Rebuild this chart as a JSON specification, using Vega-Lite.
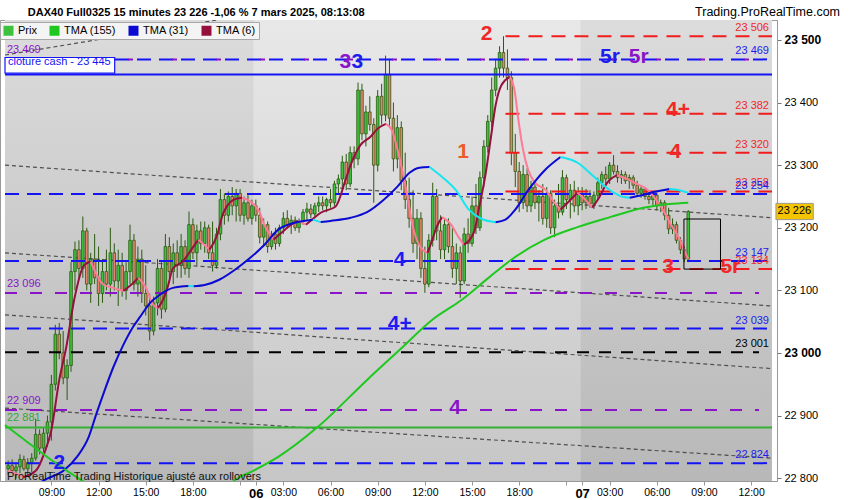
{
  "$schema": "https://vega.github.io/schema/vega-lite/v6.json",
  "width": 777,
  "height": 461,
  "autosize": {"type": "none"},
  "padding": {"left": 0, "top": 20, "right": 73, "bottom": 19},
  "background": "#ffffff",
  "config": {
    "font": "Liberation Sans",
    "view": {"stroke": "#9a9a9a"},
    "legend": {
      "orient": "none", "legendX": 0, "legendY": 2, "direction": "horizontal",
      "symbolType": "square", "symbolSize": 100, "symbolStrokeWidth": 0,
      "labelFont": "Liberation Sans", "labelFontSize": 11, "labelColor": "#000000",
      "columnPadding": 12, "fillColor": "#f4f4f4", "strokeColor": "#a8a8a8", "padding": 3
    }
  },
  "datasets": {
    "bg": [
      {"d": 5, "a": 0.2, "b": 63.5},
      {"d": 6, "a": 63.5, "b": 146.5},
      {"d": 7, "a": 146.5, "b": 195.3}
    ],
    "hdr": [
      {"t": "DAX40 Full0325 15 minutes 23 226 -1,06 % 7 mars 2025, 08:13:08", "p": 23538.3, "sd": "L"},
      {"t": "Trading.ProRealTime.com", "p": 23538.3, "sd": "R"}
    ],
    "diag": [
      {"i1": 0.2, "p1": 23300, "i2": 195.3, "p2": 23216},
      {"i1": 0.2, "p1": 23160, "i2": 195.3, "p2": 23075},
      {"i1": 0.2, "p1": 23061, "i2": 195.3, "p2": 22975},
      {"i1": 0.2, "p1": 22912, "i2": 195.3, "p2": 22832},
      {"i1": 0.2, "p1": 23476, "i2": 54.2, "p2": 23532}
    ],
    "lv": [
      {"p": 23469, "s": "bd", "f": 0.2},
      {"p": 23254, "s": "bd", "f": 0.2},
      {"p": 23147, "s": "bd", "f": 0.2},
      {"p": 23039, "s": "bd", "f": 0.2},
      {"p": 22824, "s": "bd", "f": 0.2},
      {"p": 23469, "s": "pb", "f": 0.2},
      {"p": 23506, "s": "rd", "f": 127.5},
      {"p": 23382, "s": "rd", "f": 127.5},
      {"p": 23320, "s": "rd", "f": 127.5},
      {"p": 23258, "s": "rd", "f": 127.5},
      {"p": 23134, "s": "rd", "f": 127.5},
      {"p": 23096, "s": "pd", "f": 0.2},
      {"p": 22909, "s": "pd", "f": 0.2},
      {"p": 23001, "s": "kd", "f": 0.2},
      {"p": 23445, "s": "bs", "f": 0.2},
      {"p": 22881, "s": "gs", "f": 0.2}
    ],
    "ll": [
      {"t": "23 506", "p": 23506, "c": "red", "sd": "R"},
      {"t": "23 469", "p": 23469, "c": "blue", "sd": "R"},
      {"t": "23 382", "p": 23382, "c": "red", "sd": "R"},
      {"t": "23 320", "p": 23320, "c": "red", "sd": "R"},
      {"t": "23 258", "p": 23258, "c": "red", "sd": "R"},
      {"t": "23 254", "p": 23254, "c": "blue", "sd": "R"},
      {"t": "23 147", "p": 23147, "c": "blue", "sd": "R"},
      {"t": "23 134", "p": 23134, "c": "red", "sd": "R"},
      {"t": "23 039", "p": 23039, "c": "blue", "sd": "R"},
      {"t": "23 001", "p": 23001, "c": "black", "sd": "R"},
      {"t": "22 824", "p": 22824, "c": "blue", "sd": "R"},
      {"t": "23 469", "p": 23469, "c": "purple", "sd": "L"},
      {"t": "23 096", "p": 23096, "c": "purple", "sd": "L"},
      {"t": "22 909", "p": 22909, "c": "purple", "sd": "L"},
      {"t": "22 881", "p": 22881, "c": "green", "sd": "L"}
    ],
    "notes": [
      {"t": "3", "i": 86.8, "p": 23465, "c": "purple"},
      {"t": "3", "i": 89.8, "p": 23465, "c": "blue"},
      {"t": "2", "i": 122.7, "p": 23510, "c": "red"},
      {"t": "1", "i": 116.7, "p": 23321, "c": "orange"},
      {"t": "5r", "i": 154.1, "p": 23473, "c": "blue"},
      {"t": "5r", "i": 161.4, "p": 23473, "c": "purple"},
      {"t": "4+", "i": 171.4, "p": 23388, "c": "red"},
      {"t": "4", "i": 170.7, "p": 23321, "c": "red"},
      {"t": "3", "i": 168.9, "p": 23137, "c": "red"},
      {"t": "5r", "i": 184.7, "p": 23137, "c": "red"},
      {"t": "4", "i": 100.6, "p": 23149, "c": "blue"},
      {"t": "4+", "i": 100.6, "p": 23046, "c": "blue"},
      {"t": "4", "i": 114.7, "p": 22912, "c": "purple"},
      {"t": "2", "i": 14, "p": 22825, "c": "blue"}
    ],
    "misc": [
      {"t": "clôture cash -  23 445", "p": 23445},
      {"t": "ProRealTime Trading  Historique ajusté aux rollovers", "p": 22797},
      {"t": "23 226", "p": 23226}
    ],
    "cdl": [
      {"i":1,"o":22815,"h":22828,"l":22805,"c":22820,"k":"Prix"},
      {"i":2,"o":22820,"h":22830,"l":22808,"c":22812,"k":"Prix-"},
      {"i":3,"o":22812,"h":22825,"l":22800,"c":22818,"k":"Prix"},
      {"i":4,"o":22818,"h":22838,"l":22808,"c":22830,"k":"Prix"},
      {"i":5,"o":22830,"h":22836,"l":22812,"c":22815,"k":"Prix-"},
      {"i":6,"o":22815,"h":22832,"l":22805,"c":22825,"k":"Prix"},
      {"i":7,"o":22825,"h":22840,"l":22810,"c":22832,"k":"Prix"},
      {"i":8,"o":22832,"h":22895,"l":22828,"c":22870,"k":"Prix"},
      {"i":9,"o":22870,"h":22878,"l":22838,"c":22848,"k":"Prix-"},
      {"i":10,"o":22848,"h":22880,"l":22842,"c":22872,"k":"Prix"},
      {"i":11,"o":22872,"h":22900,"l":22850,"c":22890,"k":"Prix"},
      {"i":12,"o":22890,"h":22965,"l":22860,"c":22950,"k":"Prix"},
      {"i":13,"o":22950,"h":23045,"l":22940,"c":23030,"k":"Prix"},
      {"i":14,"o":23030,"h":23048,"l":22990,"c":23000,"k":"Prix-"},
      {"i":15,"o":23000,"h":23035,"l":22950,"c":22960,"k":"Prix-"},
      {"i":16,"o":22960,"h":22990,"l":22925,"c":22980,"k":"Prix"},
      {"i":17,"o":22980,"h":23145,"l":22970,"c":23130,"k":"Prix"},
      {"i":18,"o":23130,"h":23178,"l":23100,"c":23165,"k":"Prix"},
      {"i":19,"o":23165,"h":23180,"l":23120,"c":23135,"k":"Prix-"},
      {"i":20,"o":23135,"h":23218,"l":23120,"c":23195,"k":"Prix"},
      {"i":21,"o":23195,"h":23200,"l":23100,"c":23110,"k":"Prix-"},
      {"i":22,"o":23110,"h":23160,"l":23080,"c":23150,"k":"Prix"},
      {"i":23,"o":23150,"h":23190,"l":23110,"c":23120,"k":"Prix-"},
      {"i":24,"o":23120,"h":23170,"l":23075,"c":23095,"k":"Prix-"},
      {"i":25,"o":23095,"h":23150,"l":23080,"c":23130,"k":"Prix"},
      {"i":26,"o":23130,"h":23165,"l":23100,"c":23110,"k":"Prix-"},
      {"i":27,"o":23110,"h":23200,"l":23090,"c":23160,"k":"Prix"},
      {"i":28,"o":23160,"h":23175,"l":23100,"c":23115,"k":"Prix-"},
      {"i":29,"o":23115,"h":23165,"l":23075,"c":23140,"k":"Prix"},
      {"i":30,"o":23140,"h":23160,"l":23090,"c":23100,"k":"Prix-"},
      {"i":31,"o":23100,"h":23145,"l":23085,"c":23130,"k":"Prix"},
      {"i":32,"o":23130,"h":23205,"l":23110,"c":23180,"k":"Prix"},
      {"i":33,"o":23180,"h":23190,"l":23100,"c":23110,"k":"Prix-"},
      {"i":34,"o":23110,"h":23170,"l":23090,"c":23150,"k":"Prix"},
      {"i":35,"o":23150,"h":23165,"l":23080,"c":23095,"k":"Prix-"},
      {"i":36,"o":23095,"h":23140,"l":23060,"c":23075,"k":"Prix-"},
      {"i":37,"o":23075,"h":23095,"l":23020,"c":23035,"k":"Prix-"},
      {"i":38,"o":23035,"h":23090,"l":23028,"c":23080,"k":"Prix"},
      {"i":39,"o":23080,"h":23150,"l":23060,"c":23135,"k":"Prix"},
      {"i":40,"o":23135,"h":23145,"l":23055,"c":23070,"k":"Prix-"},
      {"i":41,"o":23070,"h":23190,"l":23065,"c":23170,"k":"Prix"},
      {"i":42,"o":23170,"h":23185,"l":23120,"c":23130,"k":"Prix-"},
      {"i":43,"o":23130,"h":23175,"l":23110,"c":23160,"k":"Prix"},
      {"i":44,"o":23160,"h":23180,"l":23120,"c":23140,"k":"Prix-"},
      {"i":45,"o":23140,"h":23190,"l":23120,"c":23170,"k":"Prix"},
      {"i":46,"o":23170,"h":23180,"l":23125,"c":23135,"k":"Prix-"},
      {"i":47,"o":23135,"h":23226,"l":23120,"c":23205,"k":"Prix"},
      {"i":48,"o":23205,"h":23215,"l":23150,"c":23160,"k":"Prix-"},
      {"i":49,"o":23160,"h":23205,"l":23140,"c":23195,"k":"Prix"},
      {"i":50,"o":23195,"h":23210,"l":23165,"c":23175,"k":"Prix-"},
      {"i":51,"o":23175,"h":23210,"l":23160,"c":23200,"k":"Prix"},
      {"i":52,"o":23200,"h":23205,"l":23150,"c":23160,"k":"Prix-"},
      {"i":53,"o":23160,"h":23210,"l":23130,"c":23140,"k":"Prix-"},
      {"i":54,"o":23140,"h":23200,"l":23135,"c":23190,"k":"Prix"},
      {"i":55,"o":23190,"h":23262,"l":23180,"c":23245,"k":"Prix"},
      {"i":56,"o":23245,"h":23255,"l":23205,"c":23220,"k":"Prix-"},
      {"i":57,"o":23220,"h":23258,"l":23210,"c":23250,"k":"Prix"},
      {"i":58,"o":23250,"h":23265,"l":23220,"c":23235,"k":"Prix-"},
      {"i":59,"o":23235,"h":23262,"l":23210,"c":23255,"k":"Prix"},
      {"i":60,"o":23255,"h":23262,"l":23210,"c":23220,"k":"Prix-"},
      {"i":61,"o":23220,"h":23250,"l":23205,"c":23240,"k":"Prix"},
      {"i":62,"o":23240,"h":23252,"l":23210,"c":23215,"k":"Prix-"},
      {"i":63,"o":23215,"h":23245,"l":23205,"c":23235,"k":"Prix"},
      {"i":64,"o":23235,"h":23245,"l":23210,"c":23220,"k":"Prix-"},
      {"i":65,"o":23220,"h":23232,"l":23175,"c":23185,"k":"Prix-"},
      {"i":66,"o":23185,"h":23215,"l":23170,"c":23205,"k":"Prix"},
      {"i":67,"o":23205,"h":23210,"l":23160,"c":23170,"k":"Prix-"},
      {"i":68,"o":23170,"h":23195,"l":23165,"c":23190,"k":"Prix"},
      {"i":69,"o":23190,"h":23200,"l":23165,"c":23175,"k":"Prix-"},
      {"i":70,"o":23175,"h":23205,"l":23170,"c":23200,"k":"Prix"},
      {"i":71,"o":23200,"h":23225,"l":23190,"c":23215,"k":"Prix"},
      {"i":72,"o":23215,"h":23228,"l":23200,"c":23205,"k":"Prix-"},
      {"i":73,"o":23205,"h":23220,"l":23190,"c":23212,"k":"Prix"},
      {"i":74,"o":23212,"h":23218,"l":23195,"c":23200,"k":"Prix-"},
      {"i":75,"o":23200,"h":23215,"l":23192,"c":23210,"k":"Prix"},
      {"i":76,"o":23210,"h":23230,"l":23205,"c":23225,"k":"Prix"},
      {"i":77,"o":23225,"h":23240,"l":23212,"c":23230,"k":"Prix"},
      {"i":78,"o":23230,"h":23238,"l":23215,"c":23222,"k":"Prix-"},
      {"i":79,"o":23222,"h":23240,"l":23218,"c":23235,"k":"Prix"},
      {"i":80,"o":23235,"h":23250,"l":23225,"c":23240,"k":"Prix"},
      {"i":81,"o":23240,"h":23250,"l":23228,"c":23235,"k":"Prix-"},
      {"i":82,"o":23235,"h":23248,"l":23225,"c":23245,"k":"Prix"},
      {"i":83,"o":23245,"h":23262,"l":23232,"c":23240,"k":"Prix-"},
      {"i":84,"o":23240,"h":23275,"l":23235,"c":23270,"k":"Prix"},
      {"i":85,"o":23270,"h":23285,"l":23255,"c":23278,"k":"Prix"},
      {"i":86,"o":23278,"h":23315,"l":23262,"c":23305,"k":"Prix"},
      {"i":87,"o":23305,"h":23318,"l":23260,"c":23270,"k":"Prix-"},
      {"i":88,"o":23270,"h":23330,"l":23265,"c":23320,"k":"Prix"},
      {"i":89,"o":23320,"h":23330,"l":23295,"c":23310,"k":"Prix-"},
      {"i":90,"o":23310,"h":23432,"l":23300,"c":23420,"k":"Prix"},
      {"i":91,"o":23420,"h":23430,"l":23340,"c":23350,"k":"Prix-"},
      {"i":92,"o":23350,"h":23395,"l":23330,"c":23385,"k":"Prix"},
      {"i":93,"o":23385,"h":23410,"l":23355,"c":23365,"k":"Prix-"},
      {"i":94,"o":23365,"h":23375,"l":23240,"c":23300,"k":"Prix-"},
      {"i":95,"o":23300,"h":23420,"l":23290,"c":23410,"k":"Prix"},
      {"i":96,"o":23410,"h":23430,"l":23365,"c":23380,"k":"Prix-"},
      {"i":97,"o":23380,"h":23475,"l":23370,"c":23445,"k":"Prix"},
      {"i":98,"o":23445,"h":23470,"l":23360,"c":23375,"k":"Prix-"},
      {"i":99,"o":23375,"h":23400,"l":23290,"c":23310,"k":"Prix-"},
      {"i":100,"o":23310,"h":23380,"l":23295,"c":23360,"k":"Prix"},
      {"i":101,"o":23360,"h":23370,"l":23260,"c":23275,"k":"Prix-"},
      {"i":102,"o":23275,"h":23320,"l":23230,"c":23245,"k":"Prix-"},
      {"i":103,"o":23245,"h":23280,"l":23200,"c":23215,"k":"Prix-"},
      {"i":104,"o":23215,"h":23260,"l":23160,"c":23175,"k":"Prix-"},
      {"i":105,"o":23175,"h":23230,"l":23150,"c":23215,"k":"Prix"},
      {"i":106,"o":23215,"h":23225,"l":23120,"c":23135,"k":"Prix-"},
      {"i":107,"o":23135,"h":23170,"l":23096,"c":23110,"k":"Prix-"},
      {"i":108,"o":23110,"h":23190,"l":23105,"c":23180,"k":"Prix"},
      {"i":109,"o":23180,"h":23272,"l":23170,"c":23250,"k":"Prix"},
      {"i":110,"o":23250,"h":23262,"l":23180,"c":23195,"k":"Prix-"},
      {"i":111,"o":23195,"h":23220,"l":23150,"c":23165,"k":"Prix-"},
      {"i":112,"o":23165,"h":23215,"l":23150,"c":23205,"k":"Prix"},
      {"i":113,"o":23205,"h":23215,"l":23160,"c":23170,"k":"Prix-"},
      {"i":114,"o":23170,"h":23200,"l":23120,"c":23135,"k":"Prix-"},
      {"i":115,"o":23135,"h":23175,"l":23110,"c":23160,"k":"Prix"},
      {"i":116,"o":23160,"h":23170,"l":23088,"c":23115,"k":"Prix-"},
      {"i":117,"o":23115,"h":23200,"l":23110,"c":23190,"k":"Prix"},
      {"i":118,"o":23190,"h":23215,"l":23160,"c":23175,"k":"Prix-"},
      {"i":119,"o":23175,"h":23250,"l":23170,"c":23235,"k":"Prix"},
      {"i":120,"o":23235,"h":23270,"l":23190,"c":23200,"k":"Prix-"},
      {"i":121,"o":23200,"h":23290,"l":23195,"c":23280,"k":"Prix"},
      {"i":122,"o":23280,"h":23340,"l":23265,"c":23330,"k":"Prix"},
      {"i":123,"o":23330,"h":23380,"l":23320,"c":23370,"k":"Prix"},
      {"i":124,"o":23370,"h":23440,"l":23360,"c":23420,"k":"Prix"},
      {"i":125,"o":23420,"h":23470,"l":23410,"c":23455,"k":"Prix"},
      {"i":126,"o":23455,"h":23490,"l":23440,"c":23480,"k":"Prix"},
      {"i":127,"o":23480,"h":23506,"l":23440,"c":23455,"k":"Prix-"},
      {"i":128,"o":23455,"h":23485,"l":23420,"c":23440,"k":"Prix-"},
      {"i":129,"o":23440,"h":23450,"l":23300,"c":23320,"k":"Prix-"},
      {"i":130,"o":23320,"h":23350,"l":23265,"c":23290,"k":"Prix-"},
      {"i":131,"o":23290,"h":23305,"l":23225,"c":23240,"k":"Prix-"},
      {"i":132,"o":23240,"h":23300,"l":23230,"c":23285,"k":"Prix"},
      {"i":133,"o":23285,"h":23295,"l":23225,"c":23235,"k":"Prix-"},
      {"i":134,"o":23235,"h":23275,"l":23225,"c":23265,"k":"Prix"},
      {"i":135,"o":23265,"h":23272,"l":23230,"c":23240,"k":"Prix-"},
      {"i":136,"o":23240,"h":23260,"l":23210,"c":23250,"k":"Prix"},
      {"i":137,"o":23250,"h":23270,"l":23205,"c":23215,"k":"Prix-"},
      {"i":138,"o":23215,"h":23265,"l":23200,"c":23255,"k":"Prix"},
      {"i":139,"o":23255,"h":23260,"l":23190,"c":23200,"k":"Prix-"},
      {"i":140,"o":23200,"h":23245,"l":23185,"c":23235,"k":"Prix"},
      {"i":141,"o":23235,"h":23270,"l":23215,"c":23225,"k":"Prix-"},
      {"i":142,"o":23225,"h":23292,"l":23220,"c":23280,"k":"Prix"},
      {"i":143,"o":23280,"h":23285,"l":23230,"c":23245,"k":"Prix-"},
      {"i":144,"o":23245,"h":23270,"l":23215,"c":23260,"k":"Prix"},
      {"i":145,"o":23260,"h":23275,"l":23225,"c":23235,"k":"Prix-"},
      {"i":146,"o":23235,"h":23265,"l":23220,"c":23255,"k":"Prix"},
      {"i":147,"o":23255,"h":23265,"l":23228,"c":23240,"k":"Prix-"},
      {"i":148,"o":23240,"h":23262,"l":23230,"c":23250,"k":"Prix"},
      {"i":149,"o":23250,"h":23260,"l":23232,"c":23238,"k":"Prix-"},
      {"i":150,"o":23238,"h":23258,"l":23230,"c":23252,"k":"Prix"},
      {"i":151,"o":23252,"h":23280,"l":23245,"c":23272,"k":"Prix"},
      {"i":152,"o":23272,"h":23290,"l":23262,"c":23285,"k":"Prix"},
      {"i":153,"o":23285,"h":23298,"l":23270,"c":23278,"k":"Prix-"},
      {"i":154,"o":23278,"h":23305,"l":23270,"c":23300,"k":"Prix"},
      {"i":155,"o":23300,"h":23316,"l":23285,"c":23290,"k":"Prix-"},
      {"i":156,"o":23290,"h":23300,"l":23272,"c":23280,"k":"Prix-"},
      {"i":157,"o":23280,"h":23292,"l":23270,"c":23285,"k":"Prix"},
      {"i":158,"o":23285,"h":23290,"l":23270,"c":23275,"k":"Prix-"},
      {"i":159,"o":23275,"h":23285,"l":23262,"c":23280,"k":"Prix"},
      {"i":160,"o":23280,"h":23284,"l":23262,"c":23268,"k":"Prix-"},
      {"i":161,"o":23268,"h":23275,"l":23250,"c":23255,"k":"Prix-"},
      {"i":162,"o":23255,"h":23268,"l":23248,"c":23262,"k":"Prix"},
      {"i":163,"o":23262,"h":23265,"l":23245,"c":23250,"k":"Prix-"},
      {"i":164,"o":23250,"h":23258,"l":23238,"c":23245,"k":"Prix-"},
      {"i":165,"o":23245,"h":23256,"l":23236,"c":23252,"k":"Prix"},
      {"i":166,"o":23252,"h":23255,"l":23228,"c":23235,"k":"Prix-"},
      {"i":167,"o":23235,"h":23245,"l":23225,"c":23240,"k":"Prix"},
      {"i":168,"o":23240,"h":23244,"l":23212,"c":23220,"k":"Prix-"},
      {"i":169,"o":23220,"h":23232,"l":23190,"c":23198,"k":"Prix-"},
      {"i":170,"o":23198,"h":23215,"l":23190,"c":23205,"k":"Prix"},
      {"i":171,"o":23205,"h":23210,"l":23175,"c":23180,"k":"Prix-"},
      {"i":172,"o":23180,"h":23185,"l":23158,"c":23165,"k":"Prix-"},
      {"i":173,"o":23165,"h":23170,"l":23145,"c":23150,"k":"Prix-"},
      {"i":174,"o":23150,"h":23228,"l":23145,"c":23226,"k":"Prix"}
    ],
    "tma": [
      {"k":"TMA (6)-","g":1,"i":1,"p":22812},{"k":"TMA (6)-","g":1,"i":5,"p":22802},
      {"k":"TMA (6)","g":2,"i":5,"p":22802},{"k":"TMA (6)","g":2,"i":8.2,"p":22813},{"k":"TMA (6)","g":2,"i":10.2,"p":22840},{"k":"TMA (6)","g":2,"i":12,"p":22877},{"k":"TMA (6)","g":2,"i":14,"p":22957},{"k":"TMA (6)","g":2,"i":15.8,"p":23010},{"k":"TMA (6)","g":2,"i":17.8,"p":23085},{"k":"TMA (6)","g":2,"i":20.3,"p":23140},{"k":"TMA (6)","g":2,"i":22,"p":23146},
      {"k":"TMA (6)-","g":3,"i":22,"p":23146},{"k":"TMA (6)-","g":3,"i":25.3,"p":23109},{"k":"TMA (6)-","g":3,"i":27.8,"p":23104},{"k":"TMA (6)-","g":3,"i":30.3,"p":23099},
      {"k":"TMA (6)","g":4,"i":30.3,"p":23099},{"k":"TMA (6)","g":4,"i":32.3,"p":23109},{"k":"TMA (6)","g":4,"i":34.1,"p":23120},
      {"k":"TMA (6)-","g":5,"i":34.1,"p":23120},{"k":"TMA (6)-","g":5,"i":35.9,"p":23106},{"k":"TMA (6)-","g":5,"i":37.9,"p":23077},{"k":"TMA (6)-","g":5,"i":39.1,"p":23072},
      {"k":"TMA (6)","g":6,"i":39.1,"p":23072},{"k":"TMA (6)","g":6,"i":40.4,"p":23085},{"k":"TMA (6)","g":6,"i":41.6,"p":23106},{"k":"TMA (6)","g":6,"i":42.9,"p":23135},{"k":"TMA (6)","g":6,"i":45.4,"p":23146},{"k":"TMA (6)","g":6,"i":47.9,"p":23168},{"k":"TMA (6)","g":6,"i":49.4,"p":23181},
      {"k":"TMA (6)-","g":7,"i":49.4,"p":23181},{"k":"TMA (6)-","g":7,"i":50.9,"p":23173},{"k":"TMA (6)-","g":7,"i":52.2,"p":23165},
      {"k":"TMA (6)","g":8,"i":52.2,"p":23165},{"k":"TMA (6)","g":8,"i":54.2,"p":23189},{"k":"TMA (6)","g":8,"i":55.4,"p":23218},{"k":"TMA (6)","g":8,"i":56.7,"p":23235},{"k":"TMA (6)","g":8,"i":58.4,"p":23245},{"k":"TMA (6)","g":8,"i":60.5,"p":23248},
      {"k":"TMA (6)-","g":9,"i":60.5,"p":23248},{"k":"TMA (6)-","g":9,"i":63,"p":23240},{"k":"TMA (6)-","g":9,"i":65,"p":23224},{"k":"TMA (6)-","g":9,"i":66.2,"p":23204},{"k":"TMA (6)-","g":9,"i":68.5,"p":23181},
      {"k":"TMA (6)","g":10,"i":68.5,"p":23181},{"k":"TMA (6)","g":10,"i":70.5,"p":23192},{"k":"TMA (6)","g":10,"i":73,"p":23205},{"k":"TMA (6)","g":10,"i":74.8,"p":23211},
      {"k":"TMA (6)-","g":11,"i":74.8,"p":23211},{"k":"TMA (6)-","g":11,"i":76.8,"p":23205},
      {"k":"TMA (6)","g":12,"i":76.8,"p":23205},{"k":"TMA (6)","g":12,"i":78.5,"p":23214},{"k":"TMA (6)","g":12,"i":80.5,"p":23224},{"k":"TMA (6)","g":12,"i":84.3,"p":23234},{"k":"TMA (6)","g":12,"i":86.8,"p":23276},{"k":"TMA (6)","g":12,"i":88.1,"p":23300},{"k":"TMA (6)","g":12,"i":90.6,"p":23332},{"k":"TMA (6)","g":12,"i":93.1,"p":23345},{"k":"TMA (6)","g":12,"i":95.1,"p":23359},{"k":"TMA (6)","g":12,"i":97.1,"p":23366},
      {"k":"TMA (6)-","g":13,"i":97.1,"p":23366},{"k":"TMA (6)-","g":13,"i":98.6,"p":23356},{"k":"TMA (6)-","g":13,"i":100.6,"p":23310},{"k":"TMA (6)-","g":13,"i":102.4,"p":23256},{"k":"TMA (6)-","g":13,"i":103.9,"p":23203},{"k":"TMA (6)-","g":13,"i":105.7,"p":23171},{"k":"TMA (6)-","g":13,"i":107.7,"p":23160},
      {"k":"TMA (6)","g":14,"i":107.7,"p":23160},{"k":"TMA (6)","g":14,"i":108.9,"p":23181},{"k":"TMA (6)","g":14,"i":109.9,"p":23200},{"k":"TMA (6)","g":14,"i":111.4,"p":23217},
      {"k":"TMA (6)-","g":15,"i":111.4,"p":23217},{"k":"TMA (6)-","g":15,"i":113.7,"p":23205},{"k":"TMA (6)-","g":15,"i":115.2,"p":23189},{"k":"TMA (6)-","g":15,"i":116.9,"p":23173},
      {"k":"TMA (6)","g":16,"i":116.9,"p":23173},{"k":"TMA (6)","g":16,"i":119.5,"p":23193},{"k":"TMA (6)","g":16,"i":120.7,"p":23229},{"k":"TMA (6)","g":16,"i":122.5,"p":23288},{"k":"TMA (6)","g":16,"i":123.7,"p":23340},{"k":"TMA (6)","g":16,"i":125,"p":23396},{"k":"TMA (6)","g":16,"i":126.5,"p":23428},{"k":"TMA (6)","g":16,"i":128.7,"p":23441},
      {"k":"TMA (6)-","g":17,"i":128.7,"p":23441},{"k":"TMA (6)-","g":17,"i":129.8,"p":23420},{"k":"TMA (6)-","g":17,"i":130.8,"p":23372},{"k":"TMA (6)-","g":17,"i":132,"p":23324},{"k":"TMA (6)-","g":17,"i":133.3,"p":23292},{"k":"TMA (6)-","g":17,"i":135,"p":23272},{"k":"TMA (6)-","g":17,"i":137.8,"p":23260},{"k":"TMA (6)-","g":17,"i":139.5,"p":23244},{"k":"TMA (6)-","g":17,"i":141.5,"p":23229},
      {"k":"TMA (6)","g":18,"i":141.5,"p":23229},{"k":"TMA (6)","g":18,"i":143.3,"p":23240},{"k":"TMA (6)","g":18,"i":145.8,"p":23256},
      {"k":"TMA (6)-","g":19,"i":145.8,"p":23256},{"k":"TMA (6)-","g":19,"i":147.8,"p":23245},{"k":"TMA (6)-","g":19,"i":149.6,"p":23232},
      {"k":"TMA (6)","g":20,"i":149.6,"p":23232},{"k":"TMA (6)","g":20,"i":151.3,"p":23248},{"k":"TMA (6)","g":20,"i":153.4,"p":23272},{"k":"TMA (6)","g":20,"i":155.9,"p":23284},
      {"k":"TMA (6)-","g":21,"i":155.9,"p":23284},{"k":"TMA (6)-","g":21,"i":158.4,"p":23278},{"k":"TMA (6)-","g":21,"i":160.9,"p":23270},{"k":"TMA (6)-","g":21,"i":163.4,"p":23262},{"k":"TMA (6)-","g":21,"i":165.9,"p":23244},{"k":"TMA (6)-","g":21,"i":167.9,"p":23225},{"k":"TMA (6)-","g":21,"i":169.6,"p":23205},{"k":"TMA (6)-","g":21,"i":170.9,"p":23192},{"k":"TMA (6)-","g":21,"i":172.2,"p":23177},{"k":"TMA (6)-","g":21,"i":173.4,"p":23158},{"k":"TMA (6)-","g":21,"i":174,"p":23150},
      {"k":"TMA (31)","g":30,"i":8.5,"p":22790},{"k":"TMA (31)","g":30,"i":10.2,"p":22797},{"k":"TMA (31)","g":30,"i":15.3,"p":22813},{"k":"TMA (31)","g":30,"i":18.5,"p":22834},{"k":"TMA (31)","g":30,"i":21.5,"p":22866},{"k":"TMA (31)","g":30,"i":23.5,"p":22904},{"k":"TMA (31)","g":30,"i":25.3,"p":22936},{"k":"TMA (31)","g":30,"i":27.8,"p":22978},{"k":"TMA (31)","g":30,"i":30.3,"p":23013},{"k":"TMA (31)","g":30,"i":32.8,"p":23042},{"k":"TMA (31)","g":30,"i":34.6,"p":23058},{"k":"TMA (31)","g":30,"i":37.1,"p":23080},{"k":"TMA (31)","g":30,"i":39.6,"p":23093},{"k":"TMA (31)","g":30,"i":42.9,"p":23104},{"k":"TMA (31)","g":30,"i":46.9,"p":23107},
      {"k":"TMA (31)-","g":31,"i":46.9,"p":23107},{"k":"TMA (31)-","g":31,"i":48.2,"p":23106.5},
      {"k":"TMA (31)","g":32,"i":48.2,"p":23106.5},{"k":"TMA (31)","g":32,"i":51.2,"p":23109},{"k":"TMA (31)","g":32,"i":54.7,"p":23117},{"k":"TMA (31)","g":32,"i":58.7,"p":23133},{"k":"TMA (31)","g":32,"i":62.2,"p":23150},{"k":"TMA (31)","g":32,"i":66.2,"p":23173},{"k":"TMA (31)","g":32,"i":69.7,"p":23197},{"k":"TMA (31)","g":32,"i":73.8,"p":23208},{"k":"TMA (31)","g":32,"i":78.5,"p":23213},
      {"k":"TMA (31)-","g":33,"i":78.5,"p":23213},{"k":"TMA (31)-","g":33,"i":80.5,"p":23209},
      {"k":"TMA (31)","g":34,"i":80.5,"p":23209},{"k":"TMA (31)","g":34,"i":83,"p":23211},{"k":"TMA (31)","g":34,"i":88.1,"p":23216},{"k":"TMA (31)","g":34,"i":92.3,"p":23225},{"k":"TMA (31)","g":34,"i":96.4,"p":23244},{"k":"TMA (31)","g":34,"i":99.9,"p":23265},{"k":"TMA (31)","g":34,"i":103.1,"p":23288},{"k":"TMA (31)","g":34,"i":105.6,"p":23296},{"k":"TMA (31)","g":34,"i":108.2,"p":23297},
      {"k":"TMA (31)-","g":35,"i":108.2,"p":23297},{"k":"TMA (31)-","g":35,"i":111.4,"p":23281},{"k":"TMA (31)-","g":35,"i":114.9,"p":23260},{"k":"TMA (31)-","g":35,"i":118.2,"p":23229},{"k":"TMA (31)-","g":35,"i":121.5,"p":23214},{"k":"TMA (31)-","g":35,"i":125,"p":23209},
      {"k":"TMA (31)","g":36,"i":125,"p":23209},{"k":"TMA (31)","g":36,"i":127.5,"p":23213},{"k":"TMA (31)","g":36,"i":130,"p":23229},{"k":"TMA (31)","g":36,"i":133.3,"p":23260},{"k":"TMA (31)","g":36,"i":137.5,"p":23292},{"k":"TMA (31)","g":36,"i":141.5,"p":23313},
      {"k":"TMA (31)-","g":37,"i":141.5,"p":23313},{"k":"TMA (31)-","g":37,"i":145.8,"p":23304},{"k":"TMA (31)-","g":37,"i":150.1,"p":23281},{"k":"TMA (31)-","g":37,"i":154.1,"p":23260},{"k":"TMA (31)-","g":37,"i":157.6,"p":23249},{"k":"TMA (31)-","g":37,"i":159.1,"p":23248},
      {"k":"TMA (31)","g":38,"i":159.1,"p":23248},{"k":"TMA (31)","g":38,"i":162.1,"p":23252},{"k":"TMA (31)","g":38,"i":165.1,"p":23257},{"k":"TMA (31)","g":38,"i":169.2,"p":23262},
      {"k":"TMA (31)-","g":39,"i":169.2,"p":23262},{"k":"TMA (31)-","g":39,"i":171.7,"p":23260},{"k":"TMA (31)-","g":39,"i":174,"p":23256},
      {"k":"TMA (155)","g":50,"i":0.2,"p":22885},{"k":"TMA (155)","g":50,"i":5.2,"p":22861},{"k":"TMA (155)","g":50,"i":12,"p":22829},{"k":"TMA (155)","g":50,"i":20.3,"p":22794},{"k":"TMA (155)","g":50,"i":28,"p":22765},{"k":"TMA (155)","g":50,"i":38,"p":22745},{"k":"TMA (155)","g":50,"i":48,"p":22750},{"k":"TMA (155)","g":50,"i":54,"p":22770},{"k":"TMA (155)","g":50,"i":58.7,"p":22797},{"k":"TMA (155)","g":50,"i":63.7,"p":22813},{"k":"TMA (155)","g":50,"i":69.7,"p":22834},{"k":"TMA (155)","g":50,"i":79.8,"p":22882},{"k":"TMA (155)","g":50,"i":92.3,"p":22957},{"k":"TMA (155)","g":50,"i":100.6,"p":23005},{"k":"TMA (155)","g":50,"i":108.9,"p":23053},{"k":"TMA (155)","g":50,"i":116.4,"p":23085},{"k":"TMA (155)","g":50,"i":123.2,"p":23120},{"k":"TMA (155)","g":50,"i":129,"p":23149},{"k":"TMA (155)","g":50,"i":137.5,"p":23181},{"k":"TMA (155)","g":50,"i":145.8,"p":23201},{"k":"TMA (155)","g":50,"i":154.1,"p":23217},{"k":"TMA (155)","g":50,"i":162.6,"p":23232},{"k":"TMA (155)","g":50,"i":169.2,"p":23238},{"k":"TMA (155)","g":50,"i":174,"p":23240}
    ]
  },
  "layer": [
    {
      "data": {"name": "bg"},
      "transform": [{"filter": "datum.d != 6"}],
      "mark": {"type": "rect", "fill": {"gradient": "linear", "x1": 0, "y1": 0, "x2": 0, "y2": 1, "stops": [{"offset": 0, "color": "#dcdcdc"}, {"offset": 1, "color": "#b8b8b8"}]}},
      "encoding": {
        "x": {"field": "a", "type": "quantitative", "scale": {"domain": [0.2, 195.3], "nice": false, "zero": false},
          "axis": {
            "values": [12, 24, 36, 48, 60, 64, 71, 83, 95, 107, 119, 131, 143, 147, 154, 166, 178, 190],
            "labelExpr": "datum.value==64?'06':datum.value==147?'07':(datum.value==12||datum.value==95||datum.value==178)?'09:00':(datum.value==24||datum.value==107||datum.value==190)?'12:00':(datum.value==36||datum.value==119)?'15:00':(datum.value==48||datum.value==131)?'18:00':(datum.value==71||datum.value==154)?'03:00':(datum.value==83||datum.value==166)?'06:00':''",
            "labelFontWeight": {"condition": {"test": "datum.value==64||datum.value==147", "value": "bold"}, "value": "normal"},
            "labelFontSize": {"condition": {"test": "datum.value==64||datum.value==147", "value": 13}, "value": 10.5},
            "labelFont": "Liberation Sans", "labelColor": "#000000", "labelPadding": 2, "labelOverlap": false, "labelFlush": false,
            "tickSize": 4, "tickColor": "#999999", "domainColor": "#999999", "grid": false, "title": null
          }},
        "x2": {"field": "b"}
      }
    },
    {
      "data": {"name": "bg"},
      "transform": [{"filter": "datum.d == 6"}],
      "mark": {"type": "rect", "fill": {"gradient": "linear", "x1": 0, "y1": 0, "x2": 0, "y2": 1, "stops": [{"offset": 0, "color": "#e8e8e8"}, {"offset": 1, "color": "#c6c6c6"}]}},
      "encoding": {
        "x": {"field": "a", "type": "quantitative", "title": null},
        "x2": {"field": "b"}
      }
    },
    {
      "data": {"name": "cdl"},
      "mark": {"type": "rule", "color": "#2b5a12", "strokeWidth": 1, "clip": true},
      "encoding": {
        "x": {"field": "i", "type": "quantitative", "title": null},
        "y": {"field": "l", "type": "quantitative", "scale": {"domain": [22795.5, 23531.9], "nice": false, "zero": false},
          "axis": {
            "orient": "right", "title": null, "grid": false,
            "values": [22800, 22850, 22900, 22950, 23000, 23050, 23100, 23150, 23200, 23250, 23300, 23350, 23400, 23450, 23500],
            "labelExpr": "replace(format(datum.value, ','), ',', ' ')",
            "labelFontWeight": {"condition": {"test": "datum.value==23000||datum.value==23500", "value": "bold"}, "value": "normal"},
            "labelFontSize": {"condition": {"test": "datum.value==23000||datum.value==23500", "value": 12}, "value": 11},
            "labelFont": "Liberation Sans", "labelColor": "#000000", "labelPadding": 3,
            "tickSize": 4, "tickColor": "#777777", "domainColor": "#999999"
          }},
        "y2": {"field": "h"}
      }
    },
    {
      "data": {"name": "diag"},
      "mark": {"type": "rule", "color": "#3a3a3a", "strokeWidth": 1.2, "strokeDash": [4, 3], "opacity": 0.85, "clip": true},
      "encoding": {
        "x": {"field": "i1", "type": "quantitative", "title": null},
        "x2": {"field": "i2"},
        "y": {"field": "p1", "type": "quantitative", "title": null},
        "y2": {"field": "p2"}
      }
    },
    {
      "data": {"name": "cdl"},
      "mark": {"type": "bar", "orient": "vertical", "width": 2.6, "stroke": "#2b5a12", "strokeWidth": 0.8, "clip": true},
      "encoding": {
        "x": {"field": "i", "type": "quantitative", "title": null},
        "y": {"field": "o", "type": "quantitative", "title": null},
        "y2": {"field": "c"},
        "color": {"field": "k", "type": "nominal",
          "scale": {"domain": ["Prix", "Prix-", "TMA (155)", "TMA (31)", "TMA (31)-", "TMA (6)", "TMA (6)-", "red", "blue", "purple", "black", "green", "orange"],
                    "range": ["#3cc23c", "#e8826c", "#1ec81e", "#0a0ad2", "#16e6f0", "#96103c", "#ff7a98", "#f02828", "#1c1cf0", "#8a14c8", "#000000", "#34a834", "#ee5a2a"]},
          "legend": {"title": null, "values": ["Prix", "TMA (155)", "TMA (31)", "TMA (6)"]}}
      }
    },
    {
      "data": {"name": "lv"},
      "transform": [{"filter": "datum.s == 'bd'"}],
      "mark": {"type": "rule", "color": "#1414f5", "strokeWidth": 2, "strokeDash": [14, 8]},
      "encoding": {
        "x": {"field": "f", "type": "quantitative", "title": null},
        "x2": {"datum": 195.3},
        "y": {"field": "p", "type": "quantitative", "title": null}
      }
    },
    {
      "data": {"name": "lv"},
      "transform": [{"filter": "datum.s == 'pb'"}],
      "mark": {"type": "rule", "color": "#8a14c8", "strokeWidth": 2, "strokeDash": [5, 39], "strokeDashOffset": 9},
      "encoding": {
        "x": {"field": "f", "type": "quantitative", "title": null},
        "x2": {"datum": 195.3},
        "y": {"field": "p", "type": "quantitative", "title": null}
      }
    },
    {
      "data": {"name": "lv"},
      "transform": [{"filter": "datum.s == 'rd'"}],
      "mark": {"type": "rule", "color": "#f21c1c", "strokeWidth": 2, "strokeDash": [14, 9]},
      "encoding": {
        "x": {"field": "f", "type": "quantitative", "title": null},
        "x2": {"datum": 195.3},
        "y": {"field": "p", "type": "quantitative", "title": null}
      }
    },
    {
      "data": {"name": "lv"},
      "transform": [{"filter": "datum.s == 'pd'"}],
      "mark": {"type": "rule", "color": "#8a14c8", "strokeWidth": 2, "strokeDash": [12, 13]},
      "encoding": {
        "x": {"field": "f", "type": "quantitative", "title": null},
        "x2": {"datum": 192},
        "y": {"field": "p", "type": "quantitative", "title": null}
      }
    },
    {
      "data": {"name": "lv"},
      "transform": [{"filter": "datum.s == 'kd'"}],
      "mark": {"type": "rule", "color": "#000000", "strokeWidth": 2, "strokeDash": [12, 10]},
      "encoding": {
        "x": {"field": "f", "type": "quantitative", "title": null},
        "x2": {"datum": 192},
        "y": {"field": "p", "type": "quantitative", "title": null}
      }
    },
    {
      "data": {"name": "lv"},
      "transform": [{"filter": "datum.s == 'bs'"}],
      "mark": {"type": "rule", "color": "#1414f5", "strokeWidth": 2},
      "encoding": {
        "x": {"field": "f", "type": "quantitative", "title": null},
        "x2": {"datum": 195.3},
        "y": {"field": "p", "type": "quantitative", "title": null}
      }
    },
    {
      "data": {"name": "lv"},
      "transform": [{"filter": "datum.s == 'gs'"}],
      "mark": {"type": "rule", "color": "#34b034", "strokeWidth": 2},
      "encoding": {
        "x": {"field": "f", "type": "quantitative", "title": null},
        "x2": {"datum": 195.3},
        "y": {"field": "p", "type": "quantitative", "title": null}
      }
    },
    {
      "data": {"name": "tma"},
      "mark": {"type": "line", "strokeWidth": 2, "interpolate": "monotone", "clip": true},
      "encoding": {
        "x": {"field": "i", "type": "quantitative", "title": null},
        "y": {"field": "p", "type": "quantitative", "title": null},
        "detail": {"field": "g", "type": "nominal"},
        "color": {"field": "k", "type": "nominal", "legend": null}
      }
    },
    {
      "data": {"name": "misc"},
      "transform": [{"filter": "datum.t == '23 226'"}],
      "mark": {"type": "rect", "fill": null, "fillOpacity": 0, "stroke": "#000000", "strokeWidth": 1},
      "encoding": {
        "x": {"datum": 172.9, "type": "quantitative", "title": null},
        "x2": {"datum": 182.2},
        "y": {"datum": 23214, "type": "quantitative", "title": null},
        "y2": {"datum": 23134}
      }
    },
    {
      "data": {"name": "ll"},
      "transform": [{"filter": "datum.sd == 'R'"}],
      "mark": {"type": "text", "align": "right", "baseline": "middle", "dx": -3, "dy": -8, "fontSize": 11, "font": "Liberation Sans"},
      "encoding": {
        "x": {"datum": 195.3, "type": "quantitative", "title": null},
        "y": {"field": "p", "type": "quantitative", "title": null},
        "text": {"field": "t"},
        "fontWeight": {"condition": {"test": "datum.t == '23 001'", "value": "bold"}, "value": "normal"},
        "color": {"field": "c", "type": "nominal", "legend": null}
      }
    },
    {
      "data": {"name": "ll"},
      "transform": [{"filter": "datum.sd == 'L'"}],
      "mark": {"type": "text", "align": "left", "baseline": "middle", "dx": 2, "dy": -9, "fontSize": 11, "font": "Liberation Sans"},
      "encoding": {
        "x": {"datum": 0.2, "type": "quantitative", "title": null},
        "y": {"field": "p", "type": "quantitative", "title": null},
        "text": {"field": "t"},
        "color": {"field": "c", "type": "nominal", "legend": null}
      }
    },
    {
      "data": {"name": "notes"},
      "mark": {"type": "text", "align": "center", "baseline": "middle", "fontSize": 21, "fontWeight": "bold", "font": "Liberation Sans"},
      "encoding": {
        "x": {"field": "i", "type": "quantitative", "title": null},
        "y": {"field": "p", "type": "quantitative", "title": null},
        "text": {"field": "t"},
        "color": {"field": "c", "type": "nominal", "legend": null}
      }
    },
    {
      "data": {"name": "misc"},
      "transform": [{"filter": "indexof(datum.t, 'cash') >= 0"}],
      "mark": {"type": "rect", "fill": "#ffffff", "stroke": "#1414f5", "strokeWidth": 1.2},
      "encoding": {
        "x": {"datum": 0.2, "type": "quantitative", "title": null},
        "x2": {"datum": 28.1},
        "y": {"datum": 23447, "type": "quantitative", "title": null},
        "y2": {"datum": 23472}
      }
    },
    {
      "data": {"name": "misc"},
      "transform": [{"filter": "indexof(datum.t, 'cash') >= 0"}],
      "mark": {"type": "text", "align": "left", "baseline": "middle", "dx": 3, "dy": -12, "fontSize": 11, "font": "Liberation Sans", "color": "#1414f5"},
      "encoding": {
        "x": {"datum": 0.2, "type": "quantitative", "title": null},
        "y": {"field": "p", "type": "quantitative", "title": null},
        "text": {"field": "t"}
      }
    },
    {
      "data": {"name": "misc"},
      "transform": [{"filter": "indexof(datum.t, 'rollovers') >= 0"}],
      "mark": {"type": "text", "align": "left", "baseline": "alphabetic", "dx": 2, "fontSize": 11, "font": "Liberation Sans", "color": "#111111"},
      "encoding": {
        "x": {"datum": 0.2, "type": "quantitative", "title": null},
        "y": {"field": "p", "type": "quantitative", "title": null},
        "text": {"field": "t"}
      }
    },
    {
      "data": {"name": "misc"},
      "transform": [{"filter": "datum.t == '23 226'"}],
      "mark": {"type": "rect", "fill": "#f5c400", "stroke": "#9a9a9a", "strokeWidth": 1, "clip": false},
      "encoding": {
        "x": {"datum": 196.3, "type": "quantitative", "title": null},
        "x2": {"datum": 205.8},
        "y": {"datum": 23239, "type": "quantitative", "title": null},
        "y2": {"datum": 23213}
      }
    },
    {
      "data": {"name": "misc"},
      "transform": [{"filter": "datum.t == '23 226'"}],
      "mark": {"type": "text", "align": "center", "baseline": "middle", "fontSize": 11, "font": "Liberation Sans", "color": "#000000", "clip": false},
      "encoding": {
        "x": {"datum": 201, "type": "quantitative", "title": null},
        "y": {"field": "p", "type": "quantitative", "title": null},
        "text": {"field": "t"}
      }
    },
    {
      "data": {"name": "hdr"},
      "transform": [{"filter": "datum.sd == 'L'"}],
      "mark": {"type": "text", "align": "left", "baseline": "alphabetic", "fontSize": 11, "fontWeight": "bold", "font": "Liberation Sans", "color": "#000000", "clip": false},
      "encoding": {
        "x": {"datum": 6.0, "type": "quantitative", "title": null},
        "y": {"field": "p", "type": "quantitative", "title": null},
        "text": {"field": "t"}
      }
    },
    {
      "data": {"name": "hdr"},
      "transform": [{"filter": "datum.sd == 'R'"}],
      "mark": {"type": "text", "align": "right", "baseline": "alphabetic", "fontSize": 12.5, "font": "Liberation Sans", "color": "#000000", "clip": false},
      "encoding": {
        "x": {"datum": 212.6, "type": "quantitative", "title": null},
        "y": {"field": "p", "type": "quantitative", "title": null},
        "text": {"field": "t"}
      }
    }
  ]
}
